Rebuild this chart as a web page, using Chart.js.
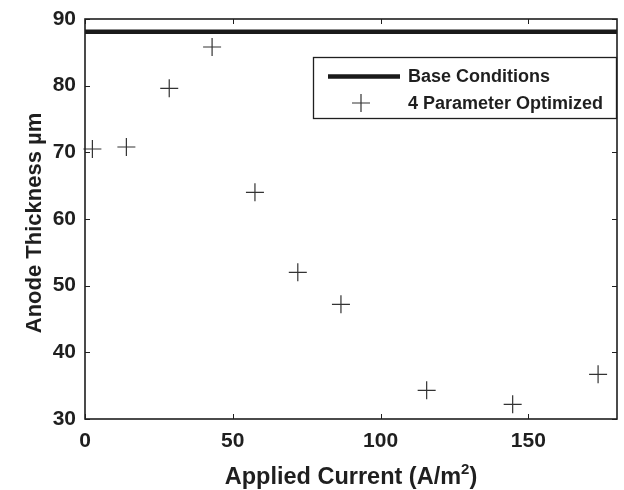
<!DOCTYPE html>
<html>
<head>
<meta charset="utf-8">
<script src="https://cdn.jsdelivr.net/npm/chart.js@4/dist/chart.umd.min.js"></script>
<style>
  html, body { margin: 0; padding: 0; background: #fff; }
  #wrap { width: 624px; height: 490px; }
</style>
</head>
<body>
<div id="wrap"><canvas id="c" width="624" height="490"></canvas></div>
<script>
// Applied current (A/m^2) for each optimized run
const currents = [2.5, 14, 28.5, 43, 57.5, 72, 86.6, 115.6, 144.7, 173.6];
// Resulting anode thickness (µm) for the 4-parameter optimization
const thickness = [70.5, 70.8, 79.6, 85.8, 64.0, 52.0, 47.2, 34.3, 32.2, 36.7];
// Base-condition thickness, constant over the current range
const baseRange = [0, 180];
const baseThickness = [88.1, 88.1];
// Tick values
const xTicks = [0, 50, 100, 150];
const yTicks = [30, 40, 50, 60, 70, 80, 90];

const seriesNames = ['Base Conditions', '4 Parameter Optimized'];
const ink = '#1f1f1f';
const fontFamily = '"Liberation Sans", Arial, Helvetica, sans-serif';

// Box frame, inward tick marks on all four sides, axis titles
const framePlugin = {
  id: 'frame',
  afterDraw(chart) {
    const { ctx, chartArea: a, scales } = chart;
    ctx.save();
    ctx.strokeStyle = ink;
    ctx.lineWidth = 1.6;
    ctx.strokeRect(a.left, a.top, a.right - a.left, a.bottom - a.top);
    ctx.lineWidth = 1;
    const tl = 5;
    xTicks.forEach(v => {
      const px = Math.round(scales.x.getPixelForValue(v)) + 0.5;
      ctx.beginPath();
      ctx.moveTo(px, a.bottom); ctx.lineTo(px, a.bottom - tl);
      ctx.moveTo(px, a.top); ctx.lineTo(px, a.top + tl);
      ctx.stroke();
    });
    yTicks.forEach(v => {
      const py = Math.round(scales.y.getPixelForValue(v)) + 0.5;
      ctx.beginPath();
      ctx.moveTo(a.left, py); ctx.lineTo(a.left + tl, py);
      ctx.moveTo(a.right, py); ctx.lineTo(a.right - tl, py);
      ctx.stroke();
    });

    // y title
    ctx.fillStyle = ink;
    ctx.font = 'bold 22px ' + fontFamily;
    ctx.textAlign = 'center';
    ctx.textBaseline = 'middle';
    ctx.save();
    ctx.translate(35, (a.top + a.bottom) / 2 + 4);
    ctx.rotate(-Math.PI / 2);
    ctx.fillText('Anode Thickness µm', 0, 0);
    ctx.restore();

    // x title with superscript
    const main = 'Applied Current (A/m';
    const sup = '2';
    const close = ')';
    const bigFont = 'bold 23.5px ' + fontFamily;
    const supFont = 'bold 15px ' + fontFamily;
    ctx.textAlign = 'left';
    ctx.textBaseline = 'alphabetic';
    ctx.font = bigFont; const w1 = ctx.measureText(main).width; const w3 = ctx.measureText(close).width;
    ctx.font = supFont; const w2 = ctx.measureText(sup).width;
    const total = w1 + w2 + w3;
    let x0 = (a.left + a.right) / 2 - total / 2;
    const base = 484;
    ctx.font = bigFont; ctx.fillText(main, x0, base);
    ctx.font = supFont; ctx.fillText(sup, x0 + w1, base - 10);
    ctx.font = bigFont; ctx.fillText(close, x0 + w1 + w2, base);
    ctx.restore();
  }
};

// Legend box in the upper right of the plot
const legendPlugin = {
  id: 'boxLegend',
  afterDraw(chart) {
    const { ctx, chartArea: a } = chart;
    const ds = chart.data.datasets;
    const L = 313, T = 57, R = a.right, B = 119;
    ctx.save();
    ctx.fillStyle = '#fff';
    ctx.fillRect(L, T, R - L, B - T);
    ctx.strokeStyle = ink;
    ctx.lineWidth = 1.3;
    ctx.strokeRect(L + 0.5, T + 0.5, R - L - 1, B - T - 1);
    // row 1: thick line sample
    const y1 = 76.5, y2 = 103;
    ctx.strokeStyle = ds[0].borderColor;
    ctx.lineWidth = ds[0].borderWidth;
    ctx.beginPath(); ctx.moveTo(328, y1); ctx.lineTo(400, y1); ctx.stroke();
    // row 2: cross marker
    ctx.strokeStyle = ds[1].pointBorderColor;
    ctx.lineWidth = ds[1].pointBorderWidth;
    const r = ds[1].pointRadius;
    ctx.beginPath();
    ctx.moveTo(361 - r, y2); ctx.lineTo(361 + r, y2);
    ctx.moveTo(361, y2 - r); ctx.lineTo(361, y2 + r);
    ctx.stroke();
    ctx.fillStyle = ink;
    ctx.font = 'bold 18px ' + fontFamily;
    ctx.textAlign = 'left';
    ctx.textBaseline = 'middle';
    ctx.fillText(ds[0].label, 408, y1 + 1);
    ctx.fillText(ds[1].label, 408, y2 + 1);
    ctx.restore();
  }
};

new Chart(document.getElementById('c'), {
  type: 'scatter',
  data: {
    datasets: [
      {
        label: seriesNames[0],
        type: 'line',
        data: baseRange.map((x, i) => ({ x, y: baseThickness[i] })),
        borderColor: '#1a1a1a',
        borderWidth: 4.5,
        pointRadius: 0,
        fill: false,
        clip: false
      },
      {
        label: seriesNames[1],
        data: currents.map((x, i) => ({ x, y: thickness[i] })),
        pointStyle: 'cross',
        pointRadius: 9,
        pointHoverRadius: 9,
        pointBorderColor: '#333333',
        pointBackgroundColor: '#333333',
        pointBorderWidth: 1.2,
        borderColor: '#333333',
        clip: false
      }
    ]
  },
  options: {
    responsive: false,
    animation: false,
    devicePixelRatio: 1,
    layout: { autoPadding: false, padding: { top: 19, right: 7, left: 0, bottom: 0 } },
    plugins: { legend: { display: false }, tooltip: { enabled: false } },
    scales: {
      x: {
        type: 'linear',
        min: 0, max: 180,
        afterBuildTicks: s => { s.ticks = xTicks.map(v => ({ value: v })); },
        afterFit: s => { s.height = 71; s.paddingLeft = 0; s.paddingRight = 0; },
        grid: { display: false, drawTicks: false },
        border: { display: false },
        ticks: { padding: 10, color: ink, font: { family: fontFamily, size: 21, weight: 'bold' }, maxRotation: 0 }
      },
      y: {
        type: 'linear',
        min: 30, max: 90,
        afterBuildTicks: s => { s.ticks = yTicks.map(v => ({ value: v })); },
        afterFit: s => { s.width = 85; s.paddingTop = 0; s.paddingBottom = 0; },
        grid: { display: false, drawTicks: false },
        border: { display: false },
        ticks: { padding: 9, color: ink, font: { family: fontFamily, size: 21, weight: 'bold' } }
      }
    }
  },
  plugins: [framePlugin, legendPlugin]
});
</script>
</body>
</html>
